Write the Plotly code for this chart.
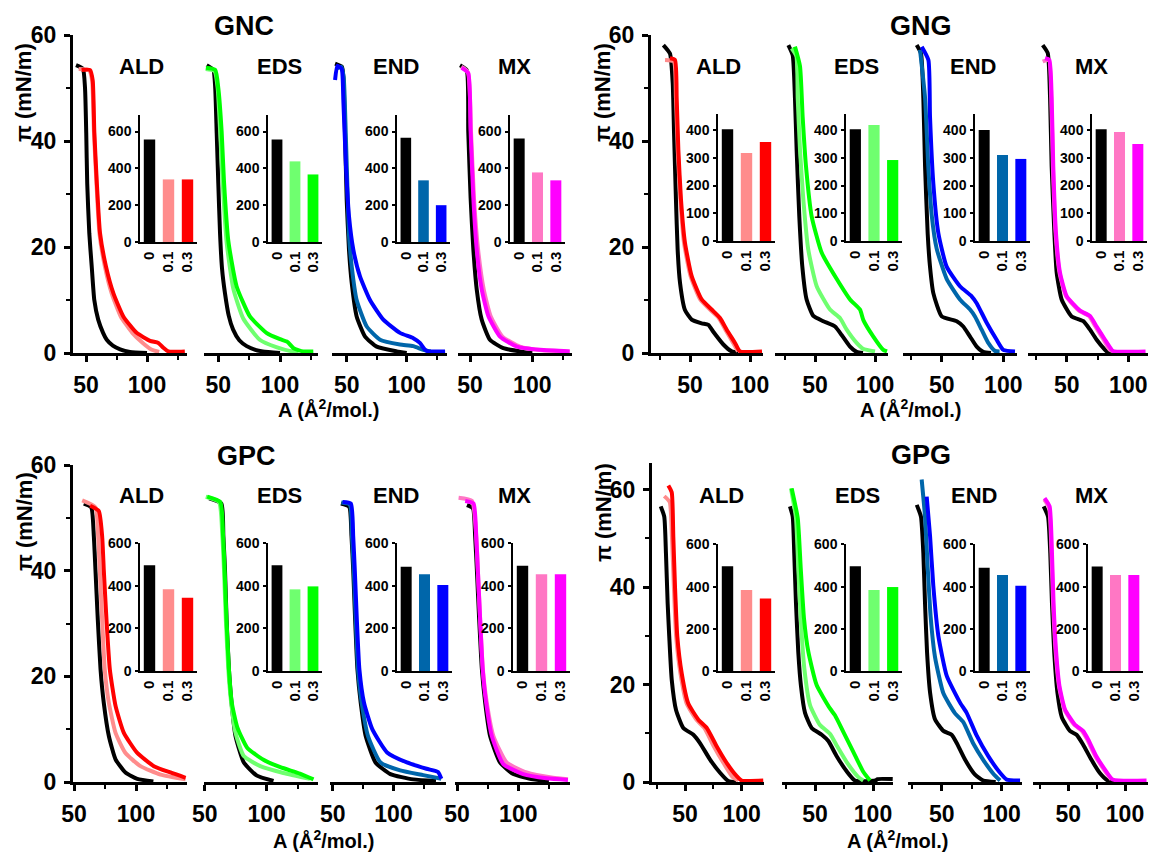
import plotly.graph_objects as go

# ---------------- data ----------------
PANELS = ["GNC", "GNG", "GPC", "GPG"]
SUBS = ["ALD", "EDS", "END", "MX"]
CONC = ["0", "0.1", "0.3"]

# ---- GNC ----
GNC_ALD_A0 = [41.8, 47.5, 49.2, 50.2, 51.0, 52.7, 54.7, 56.8, 60.0, 64.0, 67.0, 72.0, 78.0, 86.0, 100.0]
GNC_ALD_P0 = [54.3, 53.6, 50.0, 41.5, 32.0, 22.6, 16.3, 10.0, 6.3, 3.8, 2.5, 1.4, 0.7, 0.2, 0.0]
GNC_ALD_A1 = [44.0, 52.5, 55.0, 56.5, 58.5, 61.0, 65.5, 71.0, 78.5, 88.0, 97.0, 104.0, 110.0]
GNC_ALD_P1 = [53.6, 53.4, 51.4, 41.8, 32.4, 22.6, 16.3, 11.3, 6.9, 3.8, 1.8, 0.6, 0.2]
GNC_ALD_A3 = [46.4, 53.3, 55.5, 56.8, 58.8, 61.5, 66.4, 72.4, 80.6, 91.5, 102.5, 109.3, 113.4, 117.5, 131.0]
GNC_ALD_P3 = [53.4, 53.4, 51.4, 41.8, 32.4, 22.6, 16.3, 11.3, 6.9, 3.8, 2.3, 1.9, 1.0, 0.3, 0.3]

GNC_EDS_A0 = [40.6, 46.0, 47.5, 48.7, 50.0, 51.4, 53.0, 55.4, 58.5, 62.0, 67.0, 73.0, 80.0, 86.0, 100.0]
GNC_EDS_P0 = [54.3, 53.4, 50.0, 41.5, 32.0, 22.6, 16.0, 11.3, 7.0, 4.4, 2.4, 1.3, 0.6, 0.3, 0.0]
GNC_EDS_A1 = [39.8, 47.0, 49.5, 51.5, 53.5, 56.8, 62.2, 70.2, 83.6, 97.0, 107.8, 115.0]
GNC_EDS_P1 = [53.6, 53.2, 50.0, 41.8, 32.4, 20.8, 12.1, 6.5, 2.5, 1.1, 0.4, 0.3]
GNC_EDS_A3 = [40.0, 47.5, 50.0, 52.7, 54.6, 58.1, 64.8, 75.6, 89.0, 100.0, 106.0, 111.0, 118.8, 127.0]
GNC_EDS_P3 = [53.8, 53.4, 50.0, 41.8, 32.4, 21.2, 12.6, 6.9, 3.8, 2.6, 2.1, 0.9, 0.3, 0.3]

GNC_END_A0 = [40.3, 46.0, 47.2, 48.6, 50.0, 51.9, 54.2, 58.3, 65.3, 75.0, 91.7, 100.0]
GNC_END_P0 = [54.6, 54.0, 52.1, 41.5, 28.9, 19.5, 13.2, 6.9, 3.1, 1.2, 0.3, 0.0]
GNC_END_A1 = [41.0, 45.5, 47.5, 49.2, 50.5, 52.0, 54.2, 58.3, 66.7, 77.8, 94.4, 105.5, 113.8, 120.0]
GNC_END_P1 = [53.6, 54.0, 52.0, 41.5, 32.0, 22.0, 16.3, 10.0, 5.0, 2.5, 1.6, 1.3, 0.6, 0.3]
GNC_END_A3 = [40.3, 42.2, 45.8, 47.2, 49.4, 51.9, 55.5, 61.0, 69.4, 80.5, 94.4, 105.5, 111.0, 115.3, 118.0, 132.0]
GNC_END_P3 = [51.5, 54.2, 53.6, 47.7, 35.2, 25.8, 19.5, 14.5, 10.0, 6.3, 3.8, 2.8, 1.9, 0.6, 0.3, 0.3]

GNC_MX_A0 = [42.0, 47.3, 48.6, 50.5, 52.7, 55.4, 59.4, 66.0, 76.7, 92.8, 100.0]
GNC_MX_P0 = [54.3, 53.4, 41.8, 29.2, 19.5, 12.0, 6.3, 2.5, 0.9, 0.2, 0.0]
GNC_MX_A1 = [43.0, 48.3, 50.8, 53.2, 56.5, 61.0, 66.5, 76.0, 90.0, 108.0, 130.0]
GNC_MX_P1 = [54.0, 53.0, 41.8, 29.2, 19.5, 12.0, 7.0, 3.1, 1.2, 0.5, 0.3]
GNC_MX_A3 = [43.3, 48.6, 50.5, 52.7, 55.4, 59.4, 64.7, 74.1, 87.5, 106.2, 130.0]
GNC_MX_P3 = [53.8, 52.8, 41.8, 29.2, 19.5, 12.0, 7.0, 3.1, 1.2, 0.6, 0.3]

# ---- GNG ----
GNG_ALD_A0 = [27.8, 33.3, 35.6, 36.7, 38.3, 39.7, 41.7, 45.8, 51.4, 59.7, 65.3, 69.4, 77.8, 84.7, 90.0]
GNG_ALD_P0 = [58.1, 56.5, 50.9, 41.5, 28.9, 19.5, 13.2, 8.1, 6.3, 5.6, 5.3, 4.0, 1.6, 0.3, 0.0]
GNG_ALD_A1 = [29.2, 36.5, 38.3, 39.8, 42.0, 45.0, 50.5, 58.5, 68.0, 74.0, 79.5, 86.0, 90.0]
GNG_ALD_P1 = [55.3, 55.0, 48.1, 38.3, 28.9, 20.8, 14.5, 10.1, 7.9, 6.6, 4.4, 1.9, 0.3]
GNG_ALD_A3 = [33.3, 37.5, 38.9, 40.3, 42.5, 45.8, 51.4, 59.7, 69.4, 75.0, 80.6, 87.5, 91.7, 110.0]
GNG_ALD_P3 = [55.6, 55.3, 48.1, 38.3, 28.9, 20.8, 14.5, 10.1, 7.9, 6.6, 4.4, 1.9, 0.3, 0.3]

GNG_EDS_A0 = [27.8, 31.4, 33.3, 34.7, 36.9, 39.4, 43.0, 48.6, 56.9, 66.7, 72.2, 79.2, 84.7, 90.0]
GNG_EDS_P0 = [58.1, 56.2, 48.1, 38.3, 25.8, 16.4, 10.1, 7.0, 6.0, 5.0, 3.4, 1.2, 0.2, 0.0]
GNG_EDS_A1 = [30.6, 34.5, 35.6, 37.5, 40.3, 44.4, 51.4, 62.5, 70.8, 76.4, 84.7, 90.0, 100.0]
GNG_EDS_P1 = [57.5, 56.0, 48.1, 38.3, 28.9, 19.5, 12.6, 8.2, 6.6, 4.4, 1.9, 0.8, 0.3]
GNG_EDS_A3 = [33.3, 37.5, 39.7, 42.5, 47.2, 55.6, 68.0, 79.2, 87.5, 90.3, 98.6, 106.9, 110.0]
GNG_EDS_P3 = [57.8, 54.1, 44.6, 35.2, 25.8, 18.9, 14.0, 10.1, 8.2, 6.2, 3.1, 0.6, 0.3]

GNG_END_A0 = [29.7, 33.2, 35.1, 36.5, 38.6, 40.5, 43.2, 50.0, 62.2, 67.5, 73.0, 78.4, 83.7, 90.0]
GNG_END_P0 = [58.1, 56.5, 48.1, 35.2, 22.6, 16.3, 11.3, 6.9, 6.0, 5.0, 3.1, 1.2, 0.2, 0.0]
GNG_END_A1 = [32.4, 36.5, 39.1, 41.9, 45.9, 54.0, 64.8, 73.0, 77.0, 82.4, 87.8, 93.2, 97.0]
GNG_END_P1 = [57.2, 48.1, 35.2, 26.0, 19.7, 14.0, 10.1, 8.2, 6.9, 4.4, 1.9, 0.4, 0.3]
GNG_END_A3 = [33.8, 39.2, 40.5, 43.2, 47.3, 54.0, 64.8, 74.3, 78.4, 86.5, 94.6, 100.0, 109.5]
GNG_END_P3 = [57.8, 55.3, 44.6, 32.0, 22.6, 16.3, 12.6, 10.7, 9.4, 5.7, 2.5, 0.6, 0.3]

GNG_MX_A0 = [30.5, 34.6, 36.5, 37.8, 40.0, 41.9, 45.9, 54.0, 63.5, 68.9, 74.3, 81.1, 83.0, 90.0]
GNG_MX_P0 = [58.1, 56.6, 48.1, 35.2, 22.6, 15.1, 10.1, 6.9, 6.0, 4.4, 2.5, 0.6, 0.2, 0.0]
GNG_MX_A1 = [30.5, 35.5, 37.5, 38.8, 41.0, 44.2, 49.5, 60.0, 68.0, 73.3, 80.0, 85.0, 88.0]
GNG_MX_P1 = [55.0, 55.3, 48.1, 35.2, 22.6, 15.1, 10.7, 8.0, 7.0, 5.0, 2.5, 0.6, 0.3]
GNG_MX_A3 = [32.4, 35.9, 37.8, 39.1, 41.3, 44.6, 50.0, 60.8, 68.9, 74.3, 81.1, 86.5, 88.5, 114.0]
GNG_MX_P3 = [55.6, 55.3, 48.1, 35.2, 22.6, 15.1, 10.7, 8.0, 7.0, 5.0, 2.5, 0.6, 0.3, 0.3]

# ---- GPC ----
GPC_ALD_A0 = [57.9, 63.9, 66.0, 67.3, 69.2, 71.4, 74.0, 78.1, 83.5, 91.5, 101.0, 114.0]
GPC_ALD_P0 = [52.7, 52.0, 46.5, 40.2, 30.7, 21.3, 15.0, 8.7, 4.3, 1.8, 0.6, 0.1]
GPC_ALD_A1 = [56.6, 67.3, 69.5, 70.8, 72.7, 74.8, 78.1, 83.5, 91.5, 103.6, 119.8, 140.0]
GPC_ALD_P1 = [53.3, 52.0, 46.5, 40.2, 30.7, 21.3, 15.0, 9.3, 5.5, 3.0, 1.4, 0.5]
GPC_ALD_A3 = [63.0, 70.0, 72.7, 74.0, 76.2, 78.9, 83.5, 90.2, 101.0, 114.4, 127.8, 140.0]
GPC_ALD_P3 = [52.3, 51.3, 46.5, 40.2, 30.7, 21.3, 14.4, 9.3, 5.5, 3.0, 1.8, 0.8]

GPC_EDS_A0 = [53.5, 63.4, 65.0, 66.3, 67.6, 69.5, 71.6, 74.8, 81.5, 92.1, 105.5]
GPC_EDS_P0 = [53.7, 52.7, 46.5, 40.2, 30.7, 21.3, 15.0, 8.7, 3.7, 1.2, 0.2]
GPC_EDS_A1 = [50.8, 61.5, 64.2, 65.5, 67.0, 69.0, 71.3, 74.8, 81.5, 94.8, 113.5, 135.0]
GPC_EDS_P1 = [54.0, 53.0, 46.5, 40.2, 30.7, 21.3, 15.0, 9.3, 4.9, 3.0, 1.7, 0.6]
GPC_EDS_A3 = [52.0, 62.5, 64.8, 66.0, 67.5, 69.5, 71.8, 76.2, 84.2, 97.4, 111.0, 126.8, 137.8]
GPC_EDS_P3 = [54.0, 53.0, 46.5, 40.2, 30.7, 21.3, 15.0, 10.4, 6.5, 4.2, 2.8, 1.6, 0.5]

GPC_END_A0 = [56.7, 63.5, 65.4, 66.8, 68.4, 70.3, 73.0, 77.1, 85.2, 97.4, 116.3, 135.0]
GPC_END_P0 = [52.7, 52.1, 46.5, 40.2, 30.7, 21.3, 15.0, 8.7, 3.7, 1.5, 0.5, 0.2]
GPC_END_A1 = [57.0, 64.0, 65.8, 67.3, 68.9, 70.8, 73.8, 79.0, 89.3, 105.5, 124.5, 139.4]
GPC_END_P1 = [52.9, 52.5, 46.5, 40.2, 30.7, 21.3, 15.0, 8.7, 3.7, 2.2, 1.3, 0.6]
GPC_END_A3 = [58.1, 64.9, 66.8, 68.1, 69.8, 71.9, 75.7, 82.5, 94.7, 111.0, 127.2, 136.7, 139.4]
GPC_END_P3 = [53.0, 52.7, 46.5, 40.2, 30.7, 21.3, 15.0, 10.0, 5.6, 3.7, 2.5, 1.9, 0.6]

GPC_MX_A0 = [58.1, 63.0, 64.8, 66.2, 68.1, 70.3, 73.0, 77.0, 85.1, 95.9, 112.1, 125.0]
GPC_MX_P0 = [52.4, 51.8, 46.5, 40.2, 30.7, 21.3, 15.0, 8.7, 3.7, 1.5, 0.5, 0.2]
GPC_MX_A1 = [51.3, 62.2, 65.7, 67.0, 68.9, 71.1, 74.3, 79.7, 90.5, 106.8, 128.3, 140.5]
GPC_MX_P1 = [53.8, 53.2, 46.5, 40.2, 30.7, 21.3, 15.0, 8.7, 3.7, 1.8, 0.8, 0.5]
GPC_MX_A3 = [56.7, 63.5, 65.7, 67.0, 68.9, 71.0, 73.8, 78.4, 87.8, 104.0, 123.0, 140.5]
GPC_MX_P3 = [53.2, 52.7, 46.5, 40.2, 30.7, 21.3, 15.0, 8.7, 3.4, 1.5, 0.7, 0.4]

# ---- GPG ----
GPG_ALD_A0 = [28.6, 31.7, 33.2, 34.7, 36.1, 38.3, 42.1, 48.5, 57.4, 63.2, 72.1, 80.9, 88.2, 95.0]
GPG_ALD_P0 = [56.6, 54.5, 47.0, 36.7, 29.9, 21.0, 14.8, 11.1, 9.7, 8.0, 4.6, 1.9, 0.2, 0.0]
GPG_ALD_A1 = [31.7, 36.5, 38.5, 40.2, 42.2, 46.0, 51.5, 60.0, 67.0, 75.5, 84.0, 92.0, 97.0]
GPG_ALD_P1 = [58.7, 57.5, 50.3, 40.0, 29.9, 22.3, 16.1, 12.8, 11.1, 7.3, 3.9, 1.0, 0.3]
GPG_ALD_A3 = [35.3, 38.3, 39.7, 41.2, 43.2, 47.1, 52.9, 61.8, 69.2, 78.0, 86.8, 95.6, 100.0, 119.0]
GPG_ALD_P3 = [60.9, 59.5, 50.3, 40.0, 29.9, 22.3, 16.1, 12.8, 11.1, 7.3, 3.9, 1.2, 0.3, 0.3]

GPG_EDS_A0 = [28.4, 30.8, 32.1, 33.6, 35.6, 37.9, 41.4, 47.1, 55.8, 61.5, 68.7, 77.3, 84.5, 102.0, 104.0, 117.0]
GPG_EDS_P0 = [56.6, 54.5, 47.0, 36.7, 26.6, 19.7, 14.2, 11.1, 9.7, 8.4, 5.3, 2.2, 0.3, 0.3, 0.6, 0.6]
GPG_EDS_A1 = [29.3, 33.6, 35.6, 37.7, 40.8, 45.7, 54.3, 62.9, 68.7, 77.3, 87.4, 91.6]
GPG_EDS_P1 = [60.3, 54.2, 43.9, 33.6, 23.3, 15.8, 11.7, 9.9, 7.5, 4.1, 1.0, 0.3]
GPG_EDS_A3 = [29.9, 35.1, 37.7, 40.5, 44.2, 51.4, 62.9, 67.2, 74.4, 83.0, 91.6, 97.4]
GPG_EDS_P3 = [60.3, 54.2, 43.9, 33.6, 26.8, 19.9, 15.1, 13.7, 10.3, 6.2, 2.1, 0.3]

GPG_END_A0 = [29.2, 32.7, 34.7, 36.1, 37.8, 40.3, 44.4, 51.4, 58.3, 62.5, 69.4, 77.8, 84.7, 95.0]
GPG_END_P0 = [56.9, 54.5, 47.0, 36.7, 26.6, 18.4, 12.9, 10.5, 9.7, 8.0, 4.6, 1.5, 0.3, 0.0]
GPG_END_A1 = [33.3, 36.1, 38.3, 40.8, 44.4, 51.4, 61.1, 68.0, 76.3, 84.7, 93.0, 98.6]
GPG_END_P1 = [62.1, 54.5, 44.2, 33.9, 25.7, 18.2, 14.1, 12.3, 7.9, 4.5, 1.7, 0.3]
GPG_END_A3 = [37.5, 40.3, 43.0, 47.2, 54.2, 65.3, 70.8, 79.2, 88.8, 98.6, 104.2, 115.3]
GPG_END_P3 = [58.6, 50.5, 40.3, 30.0, 21.8, 16.3, 14.2, 9.5, 5.3, 1.9, 0.5, 0.3]

GPG_MX_A0 = [28.3, 32.1, 34.1, 35.6, 37.6, 40.4, 44.3, 51.4, 57.3, 63.0, 70.3, 77.6, 84.8, 95.0]
GPG_MX_P0 = [56.6, 54.5, 47.0, 36.7, 26.6, 18.4, 13.3, 10.5, 9.7, 7.7, 4.6, 1.9, 0.3, 0.0]
GPG_MX_A1 = [28.8, 33.0, 35.2, 36.6, 38.9, 41.8, 46.6, 55.0, 62.0, 66.5, 73.8, 82.5, 88.0]
GPG_MX_P1 = [58.0, 56.4, 47.0, 36.7, 26.6, 19.7, 14.9, 11.8, 10.5, 8.8, 5.3, 2.2, 0.5]
GPG_MX_A3 = [29.1, 33.5, 35.6, 37.0, 39.3, 42.2, 47.1, 55.8, 63.0, 67.4, 74.7, 83.4, 89.1, 119.0]
GPG_MX_P3 = [58.3, 56.6, 47.0, 36.7, 26.6, 19.7, 14.9, 11.8, 10.5, 8.8, 5.3, 2.2, 0.5, 0.3]

# ---- inset bar values ----
GNC_ALD_BAR = [557, 340, 340]
GNC_EDS_BAR = [557, 438, 367]
GNC_END_BAR = [567, 335, 200]
GNC_MX_BAR = [562, 378, 335]
GNG_ALD_BAR = [403, 317, 357]
GNG_EDS_BAR = [403, 418, 292]
GNG_END_BAR = [400, 310, 296]
GNG_MX_BAR = [403, 393, 350]
GPC_ALD_BAR = [497, 384, 344]
GPC_EDS_BAR = [497, 384, 398]
GPC_END_BAR = [490, 455, 404]
GPC_MX_BAR = [495, 455, 455]
GPG_ALD_BAR = [497, 384, 344]
GPG_EDS_BAR = [497, 384, 398]
GPG_END_BAR = [490, 455, 404]
GPG_MX_BAR = [495, 455, 455]

MAIN_XTICKS = [50, 100]
MAIN_YTICKS = [0, 20, 40, 60]
INSET_TICKS = {"GNC": [0, 200, 400, 600], "GNG": [0, 100, 200, 300, 400],
               "GPC": [0, 200, 400, 600], "GPG": [0, 200, 400, 600]}

# ---------------- styles / layout geometry ----------------
W, H = 1151, 852
FONT = "Arial, 'Liberation Sans', sans-serif"
COLORS = {
    "ALD": ["#000000", "#FF8C8C", "#FF0000"],
    "EDS": ["#000000", "#6FFF6F", "#00FF00"],
    "END": ["#000000", "#0066AA", "#0000FF"],
    "MX": ["#000000", "#FF77C4", "#FF00FF"],
}
MAIN_X = {
    "GNC": [(73, 187), (204, 318), (332, 447), (458, 572)],
    "GNG": [(651, 763), (775, 888), (903, 1017), (1028, 1148)],
    "GPC": [(73, 187), (204, 318), (330, 446), (455, 570)],
    "GPG": [(652, 764), (782, 893), (908, 1022), (1033, 1148)],
}
# pixel positions of the 50 and 100 ticks in each sub-plot (for the axis scale)
TICK_PX = {
    "GNC": [(86, 147), (218.3, 280), (346.7, 406.7), (470, 532.3)],
    "GNG": [(690, 750), (815, 875), (941.7, 1003.3), (1066.7, 1128.3)],
    "GPC": [(74, 136), (204.8, 266.7), (332.8, 393.5), (457, 518.3)],
    "GPG": [(685, 741.7), (815, 873), (941.7, 1001.7), (1068.3, 1125)],
}
MAIN_Y = {"GNC": (35, 353), "GNG": (35, 353), "GPC": (465, 782), "GPG": (463, 782)}
YRANGE = {"GNC": [0, 60], "GNG": [0, 60], "GPC": [0, 60], "GPG": [0, 65.5]}
INSET_X = {
    "GNC": [(140, 197), (268, 322), (397, 450), (510, 565)],
    "GNG": [(718, 775), (846, 902), (975, 1030), (1092, 1147)],
    "GPC": [(140, 197), (268, 322), (397, 452), (513, 570)],
    "GPG": [(718, 775), (846, 902), (975, 1030), (1088, 1143)],
}
INSET_Y = {"GNC": (115, 242), "GNG": (114, 241), "GPC": (543, 671), "GPG": (544, 671)}
INSET_YR = {"GNC": [0, 690], "GNG": [0, 458], "GPC": [0, 602], "GPG": [0, 602]}

PANEL_TITLE = {"GNC": (244, 26), "GNG": (921, 26), "GPC": (246, 456), "GPG": (921, 455)}
SUB_TITLE = {
    "GNC": [(141, 67), (279, 67), (396, 67), (514, 67)],
    "GNG": [(719, 67), (856, 67), (973, 67), (1091, 67)],
    "GPC": [(141, 495), (279, 495), (396, 495), (514, 495)],
    "GPG": [(721, 495), (857, 495), (974, 495), (1091, 495)],
}
YTITLE = {"GNC": (24, 93), "GNG": (603, 93), "GPC": (24, 522), "GPG": (603, 513)}
XTITLE = {"GNC": (329, 408), "GNG": (911, 408), "GPC": (324, 839), "GPG": (898, 839)}


def fx(px):
    return px / W


def fy(py):
    return 1 - py / H


def xrange_for(p, si):
    x0, x1 = MAIN_X[p][si]
    t50, t100 = TICK_PX[p][si]
    s = (t100 - t50) / 50.0
    return [50 + (x0 - t50) / s, 50 + (x1 - t50) / s]


fig = go.Figure()
layout = {}
annotations = []
idx = 0
for p in PANELS:
    for si, s in enumerate(SUBS):
        idx += 1
        m = idx
        ins = idx + 16
        xs = f"x{m}"
        ys = f"y{m}"
        for k, tag in enumerate(["0", "1", "3"]):
            A = globals()[f"{p}_{s}_A{tag}"]
            P = globals()[f"{p}_{s}_P{tag}"]
            fig.add_trace(go.Scatter(x=A, y=P, mode="lines", xaxis=xs, yaxis=ys,
                                     line=dict(color=COLORS[s][k], width=4,
                                               shape="spline", smoothing=0.5),
                                     showlegend=False, hoverinfo="skip"))
        vals = globals()[f"{p}_{s}_BAR"]
        fig.add_trace(go.Bar(x=CONC, y=vals, xaxis=f"x{ins}", yaxis=f"y{ins}",
                             marker=dict(color=COLORS[s], line=dict(width=0)),
                             showlegend=False, hoverinfo="skip"))

        x0, x1 = MAIN_X[p][si]
        yt, yb = MAIN_Y[p]
        layout[f"xaxis{m}"] = dict(
            domain=[fx(x0), fx(x1)], range=xrange_for(p, si), anchor=ys, automargin=False,
            showline=True, linewidth=3, linecolor="black", mirror=False,
            ticks="outside", ticklen=6, tickwidth=3, tickcolor="black",
            tickmode="array", tickvals=MAIN_XTICKS, ticktext=["50", "100"],
            showgrid=False, zeroline=False,
            tickfont=dict(family=FONT, size=23, color="black", weight="bold"),
            ticklabelstandoff=3, ticklabeloverflow="allow",
            minor=dict(tickvals=[25, 75, 125], ticks="outside", ticklen=4,
                       tickwidth=2, tickcolor="black", showgrid=False),
        )
        layout[f"yaxis{m}"] = dict(
            domain=[fy(yb), fy(yt)], range=YRANGE[p], anchor=xs, automargin=False,
            visible=(si == 0),
            showline=True, linewidth=3, linecolor="black",
            ticks="outside", ticklen=6, tickwidth=3, tickcolor="black",
            tickmode="array", tickvals=MAIN_YTICKS, showgrid=False, zeroline=False,
            tickfont=dict(family=FONT, size=23, color="black", weight="bold"),
            ticklabelstandoff=3, ticklabeloverflow="allow",
            minor=dict(tickvals=[10, 30, 50], ticks="outside", ticklen=4,
                       tickwidth=2, tickcolor="black", showgrid=False),
        )
        ix0, ix1 = INSET_X[p][si]
        iyt, iyb = INSET_Y[p]
        layout[f"xaxis{ins}"] = dict(
            domain=[fx(ix0), fx(ix1)], anchor=f"y{ins}", type="category", automargin=False,
            showline=True, linewidth=1.5, linecolor="black", ticks="",
            tickmode="array", tickvals=CONC, ticktext=CONC,
            tickangle=-90, showgrid=False, zeroline=False,
            tickfont=dict(family=FONT, size=15, color="black", weight="bold"),
            ticklabelstandoff=2, ticklabeloverflow="allow",
        )
        layout[f"yaxis{ins}"] = dict(
            domain=[fy(iyb), fy(iyt)], range=INSET_YR[p], anchor=f"x{ins}", automargin=False,
            showline=True, linewidth=1.5, linecolor="black",
            ticks="outside", ticklen=3, tickwidth=1.5, tickcolor="black",
            tickmode="array", tickvals=INSET_TICKS[p], showgrid=False, zeroline=False,
            tickfont=dict(family=FONT, size=14, color="black", weight="bold"),
            ticklabelstandoff=1, ticklabeloverflow="allow",
        )
        tx, ty = SUB_TITLE[p][si]
        annotations.append(dict(x=fx(tx), y=fy(ty), xref="paper", yref="paper",
                                text=s, showarrow=False, xanchor="center", yanchor="middle",
                                font=dict(family=FONT, size=22, color="black", weight="bold")))
    tx, ty = PANEL_TITLE[p]
    annotations.append(dict(x=fx(tx), y=fy(ty), xref="paper", yref="paper",
                            text=p, showarrow=False, xanchor="center", yanchor="middle",
                            font=dict(family=FONT, size=27, color="black", weight="bold")))
    tx, ty = YTITLE[p]
    annotations.append(dict(x=fx(tx), y=fy(ty), xref="paper", yref="paper",
                            text="π (mN/m)", textangle=-90, showarrow=False,
                            xanchor="center", yanchor="middle",
                            font=dict(family=FONT, size=22, color="black", weight="bold")))
    tx, ty = XTITLE[p]
    annotations.append(dict(x=fx(tx), y=fy(ty), xref="paper", yref="paper",
                            text="A (Å<sup>2</sup>/mol.)", showarrow=False,
                            xanchor="center", yanchor="middle",
                            font=dict(family=FONT, size=20, color="black", weight="bold")))

fig.update_layout(
    width=W, height=H, margin=dict(l=0, r=0, t=0, b=0, autoexpand=False),
    paper_bgcolor="white", plot_bgcolor="rgba(0,0,0,0)",
    bargap=0.4, showlegend=False, annotations=annotations,
    **layout,
)
fig.write_html("out.html")
